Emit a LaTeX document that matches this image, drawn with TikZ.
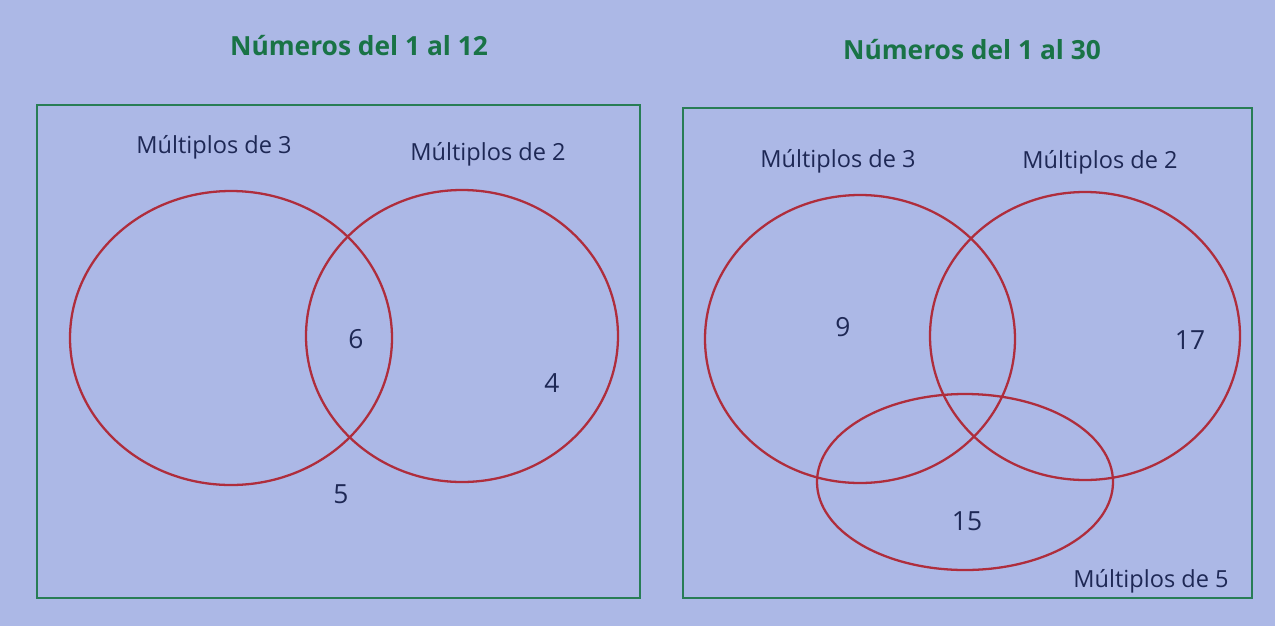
\documentclass[tikz,border=0pt]{standalone}
\usepackage{fontspec}
\setmainfont{Open Sans}
\definecolor{paper}{RGB}{172,184,230}
\definecolor{boxgreen}{RGB}{40,125,85}
\definecolor{titlegreen}{RGB}{25,115,70}
\definecolor{setred}{RGB}{175,45,60}
\definecolor{ink}{RGB}{30,40,85}
\tikzset{
	title/.style={text=titlegreen, font=\fontsize{15}{18}\selectfont\bfseries},
	setlabel/.style={text=ink, font=\fontsize{13.4}{16}\selectfont},
	num/.style={text=ink, font=\fontsize{15}{18}\selectfont},
	frame/.style={draw=boxgreen, line width=1.3pt},
	setline/.style={draw=setred, line width=1.3pt}
}
\begin{document}
\begin{tikzpicture}[x=0.02cm, y=-0.02cm]
		\fill[paper] (0,0) rectangle (1275,626);
		\useasboundingbox (0,0) rectangle (1275,626);
		
		%left diagram
		\node[title] (t12) at (359,46){Números del 1 al 12};
		\draw[frame] (37,105) rectangle (640,598);
		\draw[setline] (231,338) ellipse (161 and 147);
		\draw[setline] (462,336) ellipse (156 and 146);
		\node[setlabel] (l3) at (214,147){Múltiplos de 3};
		\node[setlabel] (l2) at (488,154){Múltiplos de 2};
		\node[num] (n6) at (356,339){6};
		\node[num] (n4) at (552,383){4};
		\node[num] (n5) at (341,494){5};
		
		%right diagram
		\node[title] (t30) at (972,50){Números del 1 al 30};
		\draw[frame] (683,108) rectangle (1252,598);
		\draw[setline] (860,339) ellipse (155 and 144);
		\draw[setline] (1085,336) ellipse (155 and 144);
		\draw[setline] (965,482) ellipse (148 and 88);
		\node[setlabel] (r3) at (838,161){Múltiplos de 3};
		\node[setlabel] (r2) at (1100,162){Múltiplos de 2};
		\node[setlabel] (r5) at (1151,581){Múltiplos de 5};
		\node[num] (n9) at (843,327){9};
		\node[num] (n17) at (1190,340){17};
		\node[num] (n15) at (967,521){15};
\end{tikzpicture}
\end{document}
